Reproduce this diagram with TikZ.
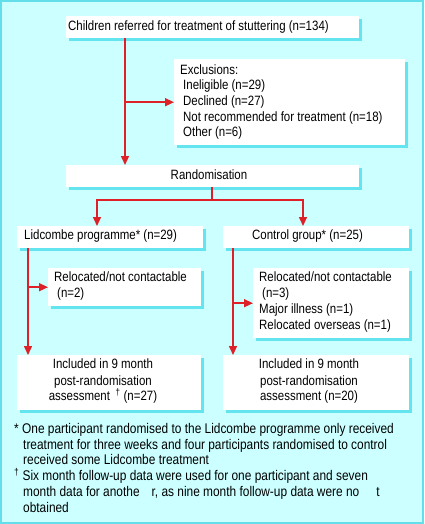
\documentclass[tikz,border=0pt]{standalone}
\usepackage{fontspec}
\setmainfont{Liberation Sans}[FakeStretch=0.85]
\usetikzlibrary{arrows.meta,shadows}
\definecolor{bg}{RGB}{204,255,255}
\definecolor{frame}{RGB}{100,222,232}
\definecolor{shcol}{RGB}{100,228,238}
\definecolor{arrred}{RGB}{222,32,40}
\newcommand{\mainsz}{\fontsize{13.5}{15}\selectfont}
\newcommand{\notesz}{\fontsize{14}{15}\selectfont}
\tikzset{
  box/.style={draw=none, fill=white, inner sep=0pt, anchor=north west,
    drop shadow={shadow xshift=3pt, shadow yshift=-3pt, fill=shcol, opacity=1}},
  txt/.style={anchor=west, inner sep=0pt, text height=9.5pt, text depth=2.5pt, font=\mainsz},
  ctxt/.style={txt, anchor=center},
  note/.style={txt, font=\notesz},
  link/.style={draw=arrred, line width=1.5pt},
  arr/.style={link, -{Triangle[length=9pt,width=8pt]}}
}
\begin{document}
\begin{tikzpicture}[x=1pt,y=-1pt]
\useasboundingbox (0,0) rectangle (424,524);
\draw[draw=frame, line width=2pt, fill=bg] (1,1) rectangle (423,523);

% boxes
\node[box, minimum width=293pt, minimum height=22pt] (top) at (66,16) {};
\node[box, minimum width=231pt, minimum height=86pt] (excl) at (174,59) {};
\node[box, minimum width=293pt, minimum height=22pt] (rand) at (66,165) {};
\node[box, minimum width=186pt, minimum height=22pt] (lid) at (17,226) {};
\node[box, minimum width=186pt, minimum height=22pt] (ctrl) at (223,226) {};
\node[box, minimum width=153pt, minimum height=38pt] (relL) at (48,268) {};
\node[box, minimum width=156pt, minimum height=70pt] (relR) at (253,268) {};
\node[box, minimum width=184pt, minimum height=55pt] (incL) at (17,355) {};
\node[box, minimum width=186pt, minimum height=55pt] (incR) at (223,355) {};

% texts
\node[txt] (t1) at (68,27) {Children referred for treatment of stuttering (n=134)};
\node[txt] (e1) at (180,71) {Exclusions:};
\node[txt] (e2) at (183,86) {Ineligible (n=29)};
\node[txt] (e3) at (183,102) {Declined (n=27)};
\node[txt] (e4) at (183,118) {Not recommended for treatment (n=18)};
\node[txt] (e5) at (183,133) {Other (n=6)};
\node[ctxt] (r1) at (209,176) {Randomisation};
\node[txt] (l1) at (24,236) {Lidcombe programme* (n=29)};
\node[txt] (c1) at (252,236) {Control group* (n=25)};
\node[txt] (rl1) at (54,278) {Relocated/not contactable};
\node[txt] (rl2) at (57,294) {(n=2)};
\node[txt] (rr1) at (259,278) {Relocated/not contactable};
\node[txt] (rr2) at (262,294) {(n=3)};
\node[txt] (rr3) at (259,310) {Major illness (n=1)};
\node[txt] (rr4) at (259,326) {Relocated overseas (n=1)};
\node[ctxt] (il1) at (103,365) {Included in 9 month};
\node[ctxt] (il2) at (103,382) {post-randomisation};
\node[ctxt] (il3) at (103,397) {assessment \,\textsuperscript{†} (n=27)};
\node[ctxt] (ir1) at (309,365) {Included in 9 month};
\node[ctxt] (ir2) at (309,382) {post-randomisation};
\node[ctxt] (ir3) at (309,397) {assessment (n=20)};
\node[note] (f1) at (14,430) {* One participant randomised to the Lidcombe programme only received};
\node[note] (f2) at (23,446) {treatment for three weeks and four participants randomised to control};
\node[note] (f3) at (23,461) {received some Lidcombe treatment};
\node[note] (f4) at (14,477) {\textsuperscript{†} Six month follow-up data were used for one participant and seven};
\node[note] (f5) at (23,493) {month data for anothe\hspace{12pt}r, as nine month follow-up data were no\hspace{17pt}t};
\node[note] (f6) at (23,509) {obtained};

% connectors
\coordinate (vx) at (125,0);
\draw[arr] (top.south -| vx) -- (rand.north -| vx);
\draw[arr] (vx |- excl.west) -- (excl.west);

\coordinate (sp) at (212,200);
\coordinate (spL) at (97,200);
\coordinate (spR) at (303,200);
\draw[link] (rand.south -| sp) -- (sp);
\draw[arr] (sp) -- (spL) -- (spL |- lid.north);
\draw[arr] (sp) -- (spR) -- (spR |- ctrl.north);

\coordinate (lx) at (28,0);
\draw[arr] (lid.south -| lx) -- (incL.north -| lx);
\draw[arr] (lx |- relL.west) -- (relL.west);

\coordinate (rx) at (233,0);
\draw[arr] (ctrl.south -| rx) -- (incR.north -| rx);
\draw[arr] (rx |- relR.west) -- (relR.west);
\end{tikzpicture}
\end{document}
